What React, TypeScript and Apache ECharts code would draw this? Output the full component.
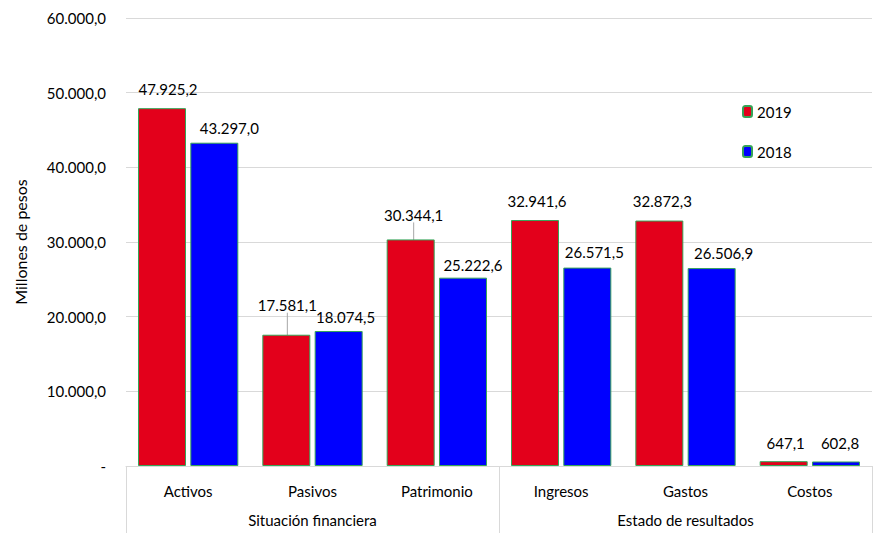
import React, { useEffect, useRef } from "react";
import * as echarts from "echarts";

const categories = ["Activos", "Pasivos", "Patrimonio", "Ingresos", "Gastos", "Costos"];
const groups = ["Situación financiera", "Estado de resultados"];
const series2019 = [47925.2, 17581.1, 30344.1, 32941.6, 32872.3, 647.1];
const series2018 = [43297.0, 18074.5, 25222.6, 26571.5, 26506.9, 602.8];
const yTicks = [0, 10000, 20000, 30000, 40000, 50000, 60000];

// label nudges (style, px)
const labelDx2019 = [6, 1, 3, 2, 3, 2];
const labelDy2019 = [-7, -17, -12, -7, -7, -6];
const labelDx2018 = [15, 7, 10, 7, 12, 4];
const labelDy2018 = [-2, -2, 0, -3, -3, -6];
const leader2019 = [false, true, true, false, false, false];

const FONT = "Lato, 'Open Sans', sans-serif";
const FS = 15;

function fmt(v: number): string {
  if (v === 0) return "-";
  const fixed = v.toFixed(1);
  const [ip, dp] = fixed.split(".");
  const withSep = ip.replace(/\B(?=(\d{3})+(?!\d))/g, ".");
  return withSep + "," + dp;
}

export default function App() {
  const ref = useRef<HTMLDivElement>(null);
  useEffect(() => {
    if (!ref.current) return;
    const chart = echarts.init(ref.current, null, { renderer: "svg" });
    const border = "#35A457";
    const labelBase = {
      show: true,
      position: "top",
      distance: 5,
      fontFamily: FONT,
      fontSize: FS,
      color: "#000",
      formatter: (p: any) => fmt(p.value),
    };
    chart.setOption({
      animation: false,
      textStyle: { fontFamily: FONT },
      grid: { left: 126, right: 5, top: 18, bottom: 67 },
      legend: {
        orient: "vertical",
        left: 737,
        top: 99,
        itemWidth: 9,
        itemHeight: 11,
        itemGap: 25,
        textStyle: { fontFamily: FONT, fontSize: FS, color: "#000" },
        data: ["2019", "2018"],
      },
      xAxis: [
        {
          type: "category",
          data: categories,
          axisLine: { lineStyle: { color: "#D9D9D9" } },
          axisTick: { show: false },
          axisLabel: { fontFamily: FONT, fontSize: FS, color: "#000", margin: 17 },
        },
        {
          type: "category",
          data: groups,
          position: "bottom",
          axisLine: { show: false },
          axisTick: { show: true, length: 67, lineStyle: { color: "#D9D9D9" } },
          axisLabel: { fontFamily: FONT, fontSize: FS, color: "#000", margin: 46 },
        },
      ],
      yAxis: {
        type: "value",
        min: yTicks[0],
        max: yTicks[yTicks.length - 1],
        interval: 10000,
        name: "Millones de pesos",
        nameLocation: "middle",
        nameRotate: 90,
        nameGap: 98,
        nameTextStyle: { fontFamily: FONT, fontSize: 16, color: "#000" },
        axisLine: { show: false },
        axisTick: { show: false },
        splitLine: { lineStyle: { color: "#D9D9D9", width: 1 } },
        axisLabel: {
          fontFamily: FONT,
          fontSize: FS,
          color: "#000",
          margin: 20,
          formatter: (v: number) => fmt(v),
        },
      },
      series: [
        {
          name: "2019",
          type: "bar",
          barWidth: 48,
          barGap: "9%",
          itemStyle: { color: "#E3001B", borderColor: border, borderWidth: 1 },
          label: labelBase,
          labelLine: { show: false, lineStyle: { color: "#A6A6A6", width: 1 } },
          labelLayout: (p: any) => ({ dx: labelDx2019[p.dataIndex], dy: labelDy2019[p.dataIndex] }),
          data: series2019.map((v, i) => ({
            value: v,
            labelLine: leader2019[i] ? { show: true } : undefined,
          })),
        },
        {
          name: "2018",
          type: "bar",
          barWidth: 48,
          itemStyle: { color: "#0000FF", borderColor: border, borderWidth: 1 },
          label: labelBase,
          labelLayout: (p: any) => ({ dx: labelDx2018[p.dataIndex], dy: labelDy2018[p.dataIndex] }),
          data: series2018,
        },
      ],
    });
    return () => chart.dispose();
  }, []);
  return <div ref={ref} style={{ width: 877, height: 533, position: "absolute", left: 0, top: 0 }} />;
}
